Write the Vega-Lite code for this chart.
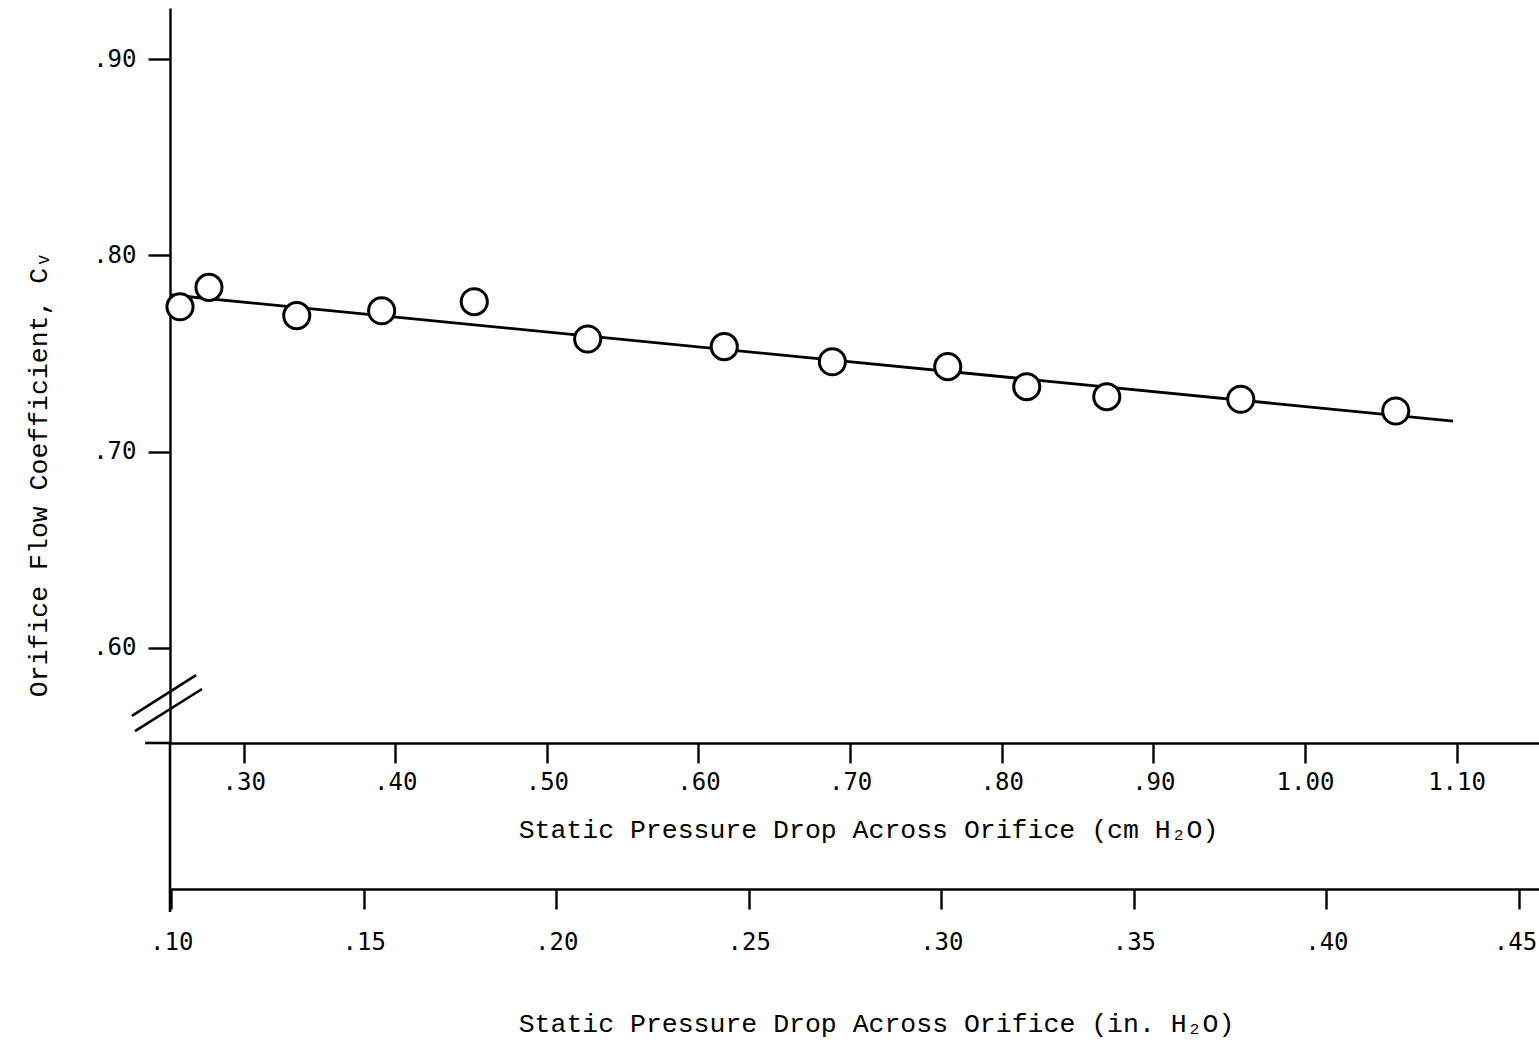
{
  "$schema": "https://vega.github.io/schema/vega-lite/v6.json",
  "width": 1369,
  "height": 735,
  "autosize": {"type": "none"},
  "padding": {"left": 170, "top": 8, "right": 0, "bottom": 305},
  "background": "white",
  "config": {
    "view": {"stroke": null},
    "axis": {
      "grid": false,
      "domainColor": "black",
      "domainWidth": 2.4,
      "tickColor": "black",
      "tickWidth": 2.4,
      "labelColor": "black",
      "titleColor": "black",
      "labelFont": "DejaVu Sans Mono",
      "labelFontSize": 24,
      "titleFont": "Liberation Mono",
      "titleFontSize": 26.5,
      "titleFontWeight": "normal",
      "labelOverlap": false
    }
  },
  "datasets": {
    "measured": [
      {"cm": 0.2580, "cv": 0.7738},
      {"cm": 0.2771, "cv": 0.7837},
      {"cm": 0.3350, "cv": 0.7693},
      {"cm": 0.3910, "cv": 0.7718},
      {"cm": 0.4521, "cv": 0.7764},
      {"cm": 0.5269, "cv": 0.7574},
      {"cm": 0.6170, "cv": 0.7535},
      {"cm": 0.6883, "cv": 0.7458},
      {"cm": 0.7644, "cv": 0.7433},
      {"cm": 0.8165, "cv": 0.7331},
      {"cm": 0.8693, "cv": 0.7280},
      {"cm": 0.9577, "cv": 0.7267},
      {"cm": 1.0599, "cv": 0.7207}
    ],
    "fit": [
      {"cm": 0.2520, "cv": 0.7798},
      {"cm": 1.0977, "cv": 0.7156}
    ],
    "strokes": [
      {"part": "break upper", "cm": 0.2263, "cv": 0.5654, "cm_end": 0.2686, "cv_end": 0.5862},
      {"part": "break lower", "cm": 0.2283, "cv": 0.5577, "cm_end": 0.2725, "cv_end": 0.5791},
      {"part": "axis drop", "cm": 0.2514, "cv": 0.5516, "cm_end": 0.2514, "cv_end": 0.4655},
      {"part": "axis lead", "cm": 0.2350, "cv": 0.5516, "cm_end": 0.2514, "cv_end": 0.5516}
    ],
    "inchTicks": [
      {"inch": 0.10}, {"inch": 0.15}, {"inch": 0.20}, {"inch": 0.25},
      {"inch": 0.30}, {"inch": 0.35}, {"inch": 0.40}, {"inch": 0.45}
    ]
  },
  "layer": [
    {
      "layer": [
        {
          "data": {"name": "strokes"},
          "mark": {"type": "rule", "color": "black", "strokeWidth": 2.6, "clip": false},
          "encoding": {
            "x": {"field": "cm", "type": "quantitative"},
            "x2": {"field": "cm_end"},
            "y": {"field": "cv", "type": "quantitative"},
            "y2": {"field": "cv_end"}
          }
        },
        {
          "data": {"name": "fit"},
          "mark": {"type": "line", "color": "black", "strokeWidth": 2.8},
          "encoding": {
            "x": {"field": "cm", "type": "quantitative"},
            "y": {"field": "cv", "type": "quantitative"}
          }
        },
        {
          "data": {"name": "measured"},
          "mark": {
            "type": "point",
            "shape": "circle",
            "filled": true,
            "fill": "white",
            "stroke": "black",
            "strokeWidth": 3,
            "size": 680,
            "opacity": 1
          },
          "encoding": {
            "x": {
              "field": "cm",
              "type": "quantitative",
              "scale": {"domain": [0.2514, 1.1544], "nice": false, "zero": false},
              "axis": {
                "orient": "bottom",
                "values": [0.3, 0.4, 0.5, 0.6, 0.7, 0.8, 0.9, 1.0, 1.1],
                "labelExpr": "datum.value < 1 ? slice(format(datum.value, '.2f'), 1) : format(datum.value, '.2f')",
                "tickSize": 20,
                "labelPadding": 7,
                "title": "Static Pressure Drop Across Orifice (cm H₂O)",
                "titleX": 698,
                "titleY": 94,
                "titleAlign": "center",
                "titleBaseline": "alphabetic"
              }
            },
            "y": {
              "field": "cv",
              "type": "quantitative",
              "scale": {"domain": [0.5516, 0.926], "nice": false, "zero": false},
              "axis": {
                "values": [0.6, 0.7, 0.8, 0.9],
                "labelExpr": "slice(format(datum.value, '.2f'), 1)",
                "tickSize": 22,
                "labelPadding": 12,
                "title": "Orifice Flow Coefficient, Cᵥ",
                "titleAngle": -90,
                "titleX": -132,
                "titleY": 466,
                "titleAlign": "center",
                "titleBaseline": "middle"
              }
            }
          }
        }
      ]
    },
    {
      "data": {"name": "inchTicks"},
      "mark": {"type": "point", "opacity": 0},
      "encoding": {
        "x": {
          "field": "inch",
          "type": "quantitative",
          "scale": {"domain": [0.0997, 0.455212], "nice": false, "zero": false},
          "axis": {
            "orient": "bottom",
            "offset": 146,
            "values": [0.10, 0.15, 0.20, 0.25, 0.30, 0.35, 0.40, 0.45],
            "labelExpr": "slice(format(datum.value, '.2f'), 1)",
            "labelOffset": {"condition": {"test": "datum.value > 0.44", "value": -4}, "value": 0},
            "tickSize": 20,
            "labelPadding": 21,
            "title": "Static Pressure Drop Across Orifice (in. H₂O)",
            "titleX": 706,
            "titleY": 142,
            "titleAlign": "center",
            "titleBaseline": "alphabetic"
          }
        }
      }
    }
  ],
  "resolve": {"scale": {"x": "independent"}, "axis": {"x": "independent"}}
}
